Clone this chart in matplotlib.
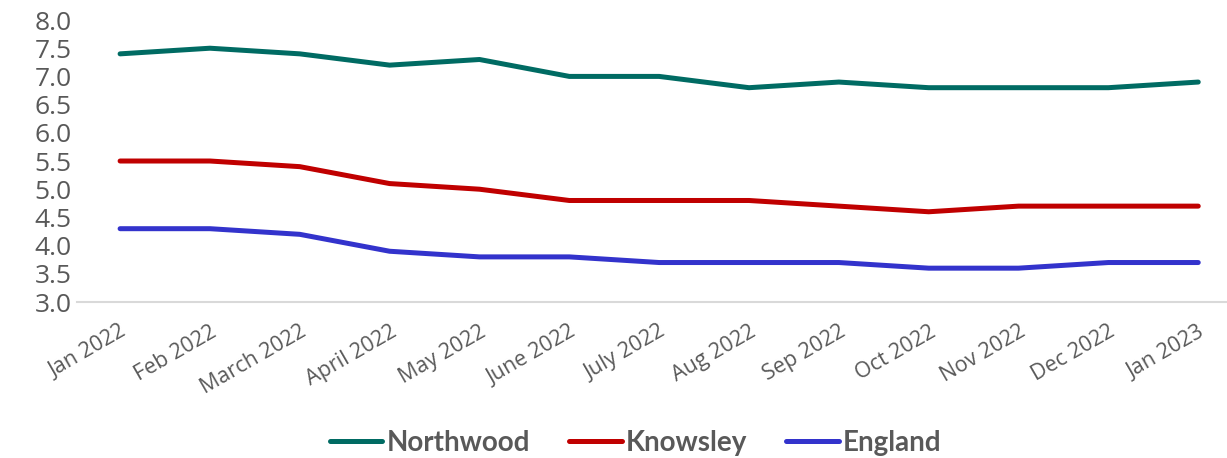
import matplotlib.pyplot as plt

months = ['Jan 2022', 'Feb 2022', 'March 2022', 'April 2022', 'May 2022', 'June 2022',
          'July 2022', 'Aug 2022', 'Sep 2022', 'Oct 2022', 'Nov 2022', 'Dec 2022', 'Jan 2023']
northwood = [7.4, 7.5, 7.4, 7.2, 7.3, 7.0, 7.0, 6.8, 6.9, 6.8, 6.8, 6.8, 6.9]
knowsley = [5.5, 5.5, 5.4, 5.1, 5.0, 4.8, 4.8, 4.8, 4.7, 4.6, 4.7, 4.7, 4.7]
england = [4.3, 4.3, 4.2, 3.9, 3.8, 3.8, 3.7, 3.7, 3.7, 3.6, 3.6, 3.7, 3.7]

grey = '#595959'

fig = plt.figure(figsize=(12.27, 4.58), dpi=100)
ax = fig.add_axes([0.0628, 0.3406, 0.9372, 0.6157])

x = range(len(months))
ax.plot(x, northwood, color='#006B63', lw=3.6, solid_capstyle='round', label='Northwood')
ax.plot(x, knowsley, color='#C00000', lw=3.6, solid_capstyle='round', label='Knowsley')
ax.plot(x, england, color='#3333CC', lw=3.6, solid_capstyle='round', label='England')

ax.set_xlim(-0.479, 12.32)
ax.set_ylim(3.0, 8.0)
ax.set_yticks([3.0, 3.5, 4.0, 4.5, 5.0, 5.5, 6.0, 6.5, 7.0, 7.5, 8.0])
ax.set_yticklabels([f'{v:.1f}' for v in ax.get_yticks()], fontsize=19,
                   family='Open Sans', color=grey)
ax.set_xticks(list(x))
ax.set_xticklabels(months, rotation=30, ha='right', rotation_mode='anchor',
                   fontsize=15.5, family='Open Sans', color=grey)
ax.tick_params(axis='both', length=0)
ax.tick_params(axis='y', pad=4)
ax.tick_params(axis='x', pad=14)

for side in ['top', 'right', 'left']:
    ax.spines[side].set_visible(False)
ax.spines['bottom'].set_color('#D9D9D9')
ax.spines['bottom'].set_linewidth(1.5)

leg = fig.legend(loc='center', bbox_to_anchor=(0.518, 0.033), ncol=3, frameon=False,
                 handlelength=1.9, handletextpad=0.15, columnspacing=1.4,
                 prop={'family': 'Lato', 'weight': 'bold', 'size': 20})
for t in leg.get_texts():
    t.set_color(grey)

fig.savefig('out.png', dpi=100)
